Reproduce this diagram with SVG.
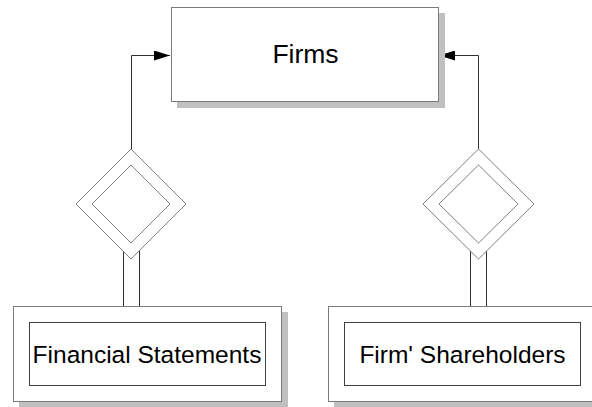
<svg xmlns="http://www.w3.org/2000/svg" width="592" height="407" viewBox="0 0 592 407">
<style>
.shadow{fill:#c0c0c0;stroke:none}
.box{fill:#fff;stroke:#7a7a7a;stroke-width:1}
.inner{fill:#fff;stroke:#404040;stroke-width:1}
.dia{fill:#fff;stroke:#808080;stroke-width:1}
.conn{fill:none;stroke:#303030;stroke-width:1}
.lbl{font-family:"Liberation Sans",Arial,sans-serif;fill:#000;text-anchor:middle}
</style>
<defs>
<marker id="ah" markerWidth="16" markerHeight="10" refX="16" refY="5" orient="auto" markerUnits="userSpaceOnUse">
<path d="M0,0 L16,5 L0,10 Z" fill="#000"/>
</marker>
</defs>
<rect width="592" height="407" fill="#fff"/>
<g id="connectors">
<path class="conn" d="M131.5,150 V55.5 H170" marker-end="url(#ah)"/>
<path class="conn" d="M478.5,150 V55.5 H439" marker-end="url(#ah)"/>
<line class="conn" x1="123.5" y1="250" x2="123.5" y2="306.5"/>
<line class="conn" x1="139.5" y1="250" x2="139.5" y2="306.5"/>
<line class="conn" x1="470.5" y1="250" x2="470.5" y2="306.5"/>
<line class="conn" x1="486.5" y1="250" x2="486.5" y2="306.5"/>
</g>
<g id="firms">
<rect class="shadow" x="177" y="13" width="268" height="95"/>
<rect class="box" x="171.5" y="7.5" width="267" height="94"/>
<text class="lbl" x="305.5" y="62.5" font-size="26.5">Firms</text>
</g>
<g id="rel-left">
<polygon class="dia" points="131,149 186,204 131,259 76,204"/>
<polygon class="dia" points="131,165 170,204 131,243 92,204"/>
</g>
<g id="rel-right">
<polygon class="dia" points="478.5,149 534,204 478.5,259 423,204"/>
<polygon class="dia" points="478.5,165 518,204 478.5,243 439,204"/>
</g>
<g id="financial-statements">
<rect class="shadow" x="19" y="312" width="269" height="95"/>
<rect class="box" x="13.5" y="306.5" width="268" height="95"/>
<rect class="inner" x="29.5" y="322.5" width="236" height="63"/>
<text class="lbl" x="147" y="363" font-size="24.5">Financial Statements</text>
</g>
<g id="firm-shareholders">
<rect class="shadow" x="334" y="312" width="270" height="95"/>
<rect class="box" x="328.5" y="306.5" width="270" height="95"/>
<rect class="inner" x="344.5" y="322.5" width="236" height="63"/>
<text class="lbl" x="462.5" y="363" font-size="24.5">Firm' Shareholders</text>
</g>
</svg>
